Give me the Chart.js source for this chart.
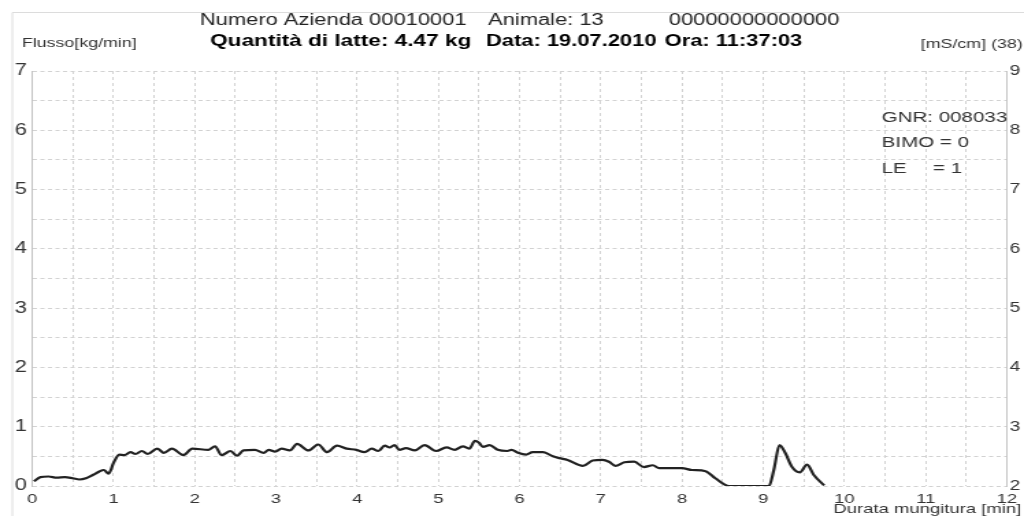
<html><head>
<meta charset="UTF-8">
<title>Flusso latte</title>
<script src="https://cdn.jsdelivr.net/npm/chart.js"></script>
<style>
* { margin: 0; padding: 0; }
body { background: white; width: 1024px; height: 516px; overflow: hidden; }
#flowChart { display: block; }
</style>
</head>
<body>
<!-- the original print is stretched sideways, so the canvas is drawn at 748px and shown at 1024px -->
<canvas id="flowChart" width="748" height="516" style="width:1024px;height:516px"></canvas>

<script>
const minutes = [0.02, 0.1, 0.2, 0.3, 0.4, 0.5, 0.58, 0.66, 0.75, 0.82, 0.88, 0.94,
  1.0, 1.07, 1.13, 1.21, 1.27, 1.35, 1.42, 1.54, 1.62, 1.72, 1.86, 1.97,
  2.17, 2.25, 2.33, 2.44, 2.52, 2.6, 2.74, 2.85, 2.91, 2.99,
  3.07, 3.17, 3.26, 3.4, 3.52, 3.63, 3.75, 3.87, 3.99,
  4.09, 4.18, 4.26, 4.34, 4.4, 4.46, 4.52, 4.6, 4.71, 4.83, 4.97,
  5.1, 5.2, 5.3, 5.38, 5.45, 5.5, 5.55, 5.63, 5.73, 5.85, 5.9, 5.98,
  6.08, 6.16, 6.29, 6.41, 6.49, 6.59, 6.78, 6.9,
  7.02, 7.1, 7.18, 7.29, 7.41, 7.53, 7.64, 7.72,
  8.0, 8.12, 8.29, 8.41, 8.58, 9.07, 9.13, 9.2, 9.27, 9.35, 9.45, 9.54, 9.62, 9.75];

const flow = [0.08, 0.15, 0.16, 0.14, 0.15, 0.13, 0.11, 0.13, 0.19, 0.24, 0.27, 0.21,
  0.39, 0.53, 0.52, 0.57, 0.54, 0.59, 0.54, 0.63, 0.56, 0.63, 0.52, 0.63,
  0.61, 0.67, 0.52, 0.59, 0.51, 0.6, 0.61, 0.56, 0.61, 0.58,
  0.63, 0.6, 0.71, 0.6, 0.7, 0.57, 0.68, 0.63, 0.61,
  0.57, 0.63, 0.59, 0.68, 0.65, 0.69, 0.61, 0.64, 0.6, 0.69, 0.59,
  0.65, 0.61, 0.67, 0.63, 0.76, 0.73, 0.66, 0.69, 0.61, 0.59, 0.61, 0.56,
  0.53, 0.57, 0.57, 0.5, 0.47, 0.44, 0.34, 0.43,
  0.44, 0.41, 0.34, 0.4, 0.41, 0.32, 0.35, 0.3,
  0.3, 0.27, 0.25, 0.13, 0, 0, 0.27, 0.69, 0.56, 0.33, 0.23, 0.36, 0.19, 0.01];

const headerLine1 = ['Numero Azienda 00010001', 'Animale: 13', '00000000000000'];
const headerLine2 = ['Quantità di latte: 4.47 kg', 'Data: 19.07.2010', 'Ora: 11:37:03'];
const infoLabels = ['GNR: 008033', 'BIMO = 0', 'LE', '= 1'];
const leftUnit = 'Flusso[kg/min]';
const rightUnit = '[mS/cm] (38)';
const xTitle = 'Durata mungitura [min]';

const FONT = '"Liberation Sans", Arial, sans-serif';
const points = minutes.map((m, i) => ({ x: m, y: flow[i] }));

function onlyWhole(v) {
  return Number.isInteger(v) ? String(v) : '';
}

function put(ctx, text, x, y, size, bold, align) {
  ctx.font = (bold ? 'bold ' : '') + size + 'px ' + FONT;
  ctx.textAlign = align || 'left';
  ctx.fillText(text, x, y);
}

const printPlugin = {
  id: 'printTexts',
  beforeDraw(chart) {
    const ctx = chart.ctx;
    ctx.save();
    ctx.strokeStyle = '#dcdcdc';
    ctx.lineWidth = 1;
    ctx.beginPath();
    ctx.moveTo(9, 516);
    ctx.lineTo(9, 12.5);
    ctx.lineTo(748, 12.5);
    ctx.stroke();
    ctx.restore();
  },
  afterDraw(chart) {
    const ctx = chart.ctx;
    ctx.save();
    ctx.fillStyle = '#222';
    ctx.textBaseline = 'alphabetic';
    put(ctx, headerLine1[0], 146, 25, 16, false);
    put(ctx, headerLine1[1], 356.5, 25, 16, false);
    put(ctx, headerLine1[2], 488.5, 25, 16, false);
    ctx.fillStyle = '#000';
    put(ctx, headerLine2[0], 153.5, 45.5, 16.5, true);
    put(ctx, headerLine2[1], 355, 45.5, 16, true);
    put(ctx, headerLine2[2], 485.5, 45.5, 16, true);
    ctx.fillStyle = '#333';
    put(ctx, leftUnit, 16, 47, 13, false);
    put(ctx, rightUnit, 747, 48, 13, false, 'right');
    put(ctx, infoLabels[0], 644, 122, 15, false);
    put(ctx, infoLabels[1], 644, 147, 15, false);
    put(ctx, infoLabels[2], 644, 172.5, 15, false);
    put(ctx, infoLabels[3], 681.5, 172.5, 15, false);
    put(ctx, xTitle, 746, 513, 13.5, false, 'right');
    ctx.restore();
  }
};

new Chart(document.getElementById('flowChart'), {
  type: 'line',
  data: {
    datasets: [{
      data: points,
      borderColor: '#222',
      borderWidth: 2.2,
      pointRadius: 0,
      tension: 0.2,
      cubicInterpolationMode: 'monotone',
      fill: false
    }]
  },
  options: {
    responsive: false,
    animation: false,
    events: [],
    layout: { padding: { top: 71, left: 0, right: 0, bottom: 0 } },
    plugins: { legend: { display: false }, tooltip: { enabled: false } },
    scales: {
      x: {
        type: 'linear',
        min: 0,
        max: 12,
        afterFit: s => { s.height = 30; },
        grid: { color: '#d2d2d2', lineWidth: 1, drawTicks: false },
        border: { display: false, dash: [3, 3] },
        ticks: {
          stepSize: 0.5,
          autoSkip: false,
          maxRotation: 0,
          padding: 5,
          color: '#333',
          font: { family: FONT, size: 13.5 },
          callback: onlyWhole
        }
      },
      y: {
        position: 'left',
        min: 0,
        max: 7,
        afterFit: s => { s.width = 23.6; },
        grid: { color: '#d2d2d2', lineWidth: 1, drawTicks: false },
        border: { display: true, color: '#c4c4c4', width: 1, dash: [3, 2.5] },
        ticks: {
          stepSize: 0.5,
          autoSkip: false,
          padding: 4,
          color: '#333',
          font: { family: FONT, size: 16 },
          callback: onlyWhole
        }
      },
      y2: {
        position: 'right',
        min: 2,
        max: 9,
        afterFit: s => { s.width = 10.2; },
        grid: { drawOnChartArea: false, drawTicks: false },
        border: { display: true, color: '#c4c4c4', width: 1 },
        ticks: {
          stepSize: 0.5,
          autoSkip: false,
          padding: 2,
          color: '#333',
          font: { family: FONT, size: 14 },
          callback: onlyWhole
        }
      }
    }
  },
  plugins: [printPlugin]
});
</script>
</body></html>
